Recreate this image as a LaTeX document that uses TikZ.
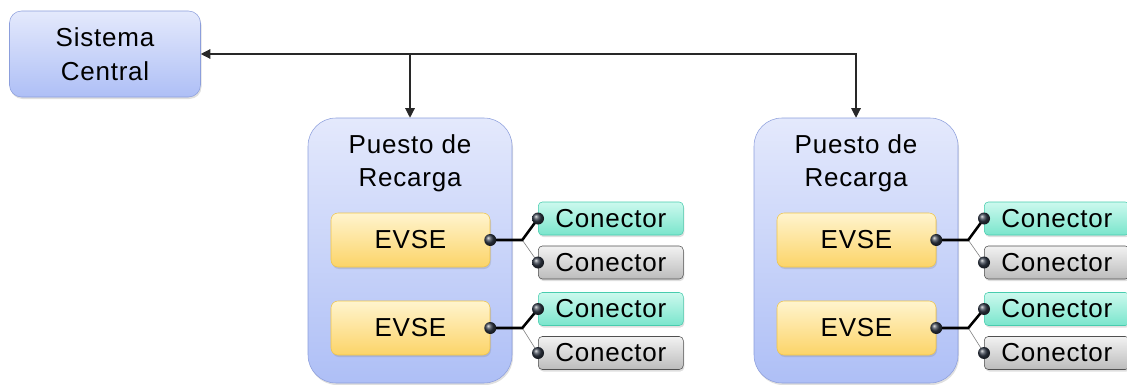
\documentclass[tikz,border=0pt]{standalone}
\usepackage{fontspec}
\setmainfont[LetterSpace=3]{Liberation Sans}
\usepackage{tikz}
\usetikzlibrary{arrows.meta, positioning, shadows}
\newdimen\upx \upx=0.75pt
\definecolor{blueTop}{RGB}{228,233,252}
\definecolor{blueBot}{RGB}{174,191,246}
\definecolor{blueLine}{RGB}{140,158,220}
\definecolor{evseTop}{RGB}{255,244,206}
\definecolor{evseBot}{RGB}{252,212,104}
\definecolor{evseLine}{RGB}{240,196,72}
\definecolor{conTop}{RGB}{204,249,238}
\definecolor{conBot}{RGB}{122,229,204}
\definecolor{conLine}{RGB}{72,204,174}
\definecolor{offTop}{RGB}{242,242,242}
\definecolor{offBot}{RGB}{188,188,188}
\definecolor{offLine}{RGB}{80,80,80}
\definecolor{dotc}{RGB}{50,58,72}
\definecolor{wire}{RGB}{40,40,40}

\begin{document}
\begin{tikzpicture}[
  x=\upx, y=-\upx,
  font=\fontsize{19.5}{25.5}\selectfont,
  >={Triangle[length=7.2pt, width=7.2pt]},
  shadowed/.style={drop shadow={shadow xshift=1\upx, shadow yshift=-2\upx, opacity=0.25}},
  central/.style={draw=blueLine, top color=blueTop, bottom color=blueBot, shadowed,
                  rounded corners=12\upx, align=center, minimum width=191\upx, minimum height=86\upx},
  station/.style={draw=blueLine, top color=blueTop, bottom color=blueBot, shadowed,
                  rounded corners=28\upx, minimum width=204\upx, minimum height=265\upx},
  title/.style={align=center, font=\fontsize{19.5}{24.5}\selectfont},
  evse/.style={draw=evseLine, top color=evseTop, bottom color=evseBot, shadowed,
               rounded corners=7\upx, minimum width=159\upx, minimum height=54\upx},
  plugon/.style={draw=conLine, top color=conTop, bottom color=conBot, shadowed, anchor=west,
                 rounded corners=4\upx, minimum width=145\upx, minimum height=33\upx, inner sep=0pt},
  plugoff/.style={plugon, draw=offLine, top color=offTop, bottom color=offBot},
  arr/.style={draw=wire, line width=0.85pt},
  link/.style={line width=1.9pt, black},
  spare/.style={line width=0.45pt, gray},
  pin/.style={ball color=dotc}
]
\useasboundingbox (0,0) rectangle (1127,385);

\node[central] (sis) at (105,54) {Sistema\\Central};

\foreach \n/\sx in {1/0, 2/446} {
  \node[station] (pr\n) at ({410+\sx},250.5) {};
  \node[title] (prt\n) at ([yshift=-45.5\upx]pr\n.north) {Puesto de\\Recarga};
  \foreach \k/\dy/\dc in {a/0/0, b/88/90.5} {
    \node[evse] (ev\n\k) at ({410.5+\sx},{240+\dy}) {EVSE};
    \node[plugon] (on\n\k) at ({538+\sx},{218.5+\dc}) {Conector};
    \node[plugoff] (off\n\k) at ({538+\sx},{262.5+\dc}) {Conector};
    \draw[spare] (ev\n\k.east) ++(32,0) coordinate (j\n\k) -- (off\n\k.west);
    \draw[link] (ev\n\k.east) -- (j\n\k) -- (on\n\k.west);
    \shade[pin] (ev\n\k.east) circle (6\upx);
    \shade[pin] (on\n\k.west) circle (6\upx);
    \shade[pin] (off\n\k.west) circle (6\upx);
  }
}

\draw[arr, <->] (sis.east) -| (pr2.north);
\draw[arr, ->] (pr1.north |- sis.east) -- (pr1.north);
\end{tikzpicture}
\end{document}
